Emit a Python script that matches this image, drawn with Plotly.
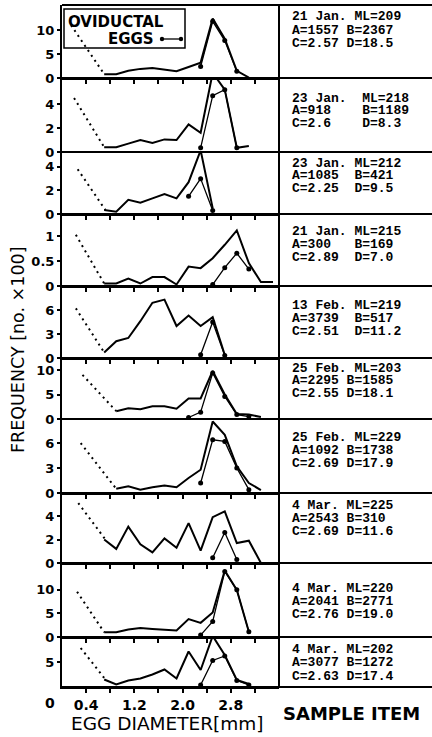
import plotly.graph_objects as go
from plotly.subplots import make_subplots

# ---------------- data (frequency, no. x100) ----------------
x07_31 = [0.7, 0.9, 1.1, 1.3, 1.5, 1.7, 1.9, 2.1, 2.3, 2.5, 2.7, 2.9, 3.1]
x07_25 = [0.7, 0.9, 1.1, 1.3, 1.5, 1.7, 1.9, 2.1, 2.3, 2.5]
x07_35 = [0.7, 0.9, 1.1, 1.3, 1.5, 1.7, 1.9, 2.1, 2.3, 2.5, 2.7, 2.9, 3.1, 3.3, 3.5]
x07_27 = [0.7, 0.9, 1.1, 1.3, 1.5, 1.7, 1.9, 2.1, 2.3, 2.5, 2.7]
x09_33 = [0.9, 1.1, 1.3, 1.5, 1.7, 1.9, 2.1, 2.3, 2.5, 2.7, 2.9, 3.1, 3.3]
x07_33 = [0.7, 0.9, 1.1, 1.3, 1.5, 1.7, 1.9, 2.1, 2.3, 2.5, 2.7, 2.9, 3.1, 3.3]

p1_x, p1_y = x07_31, [0.8, 0.8, 1.5, 1.9, 2.1, 1.8, 1.4, 2.3, 3.2, 12.4, 8.2, 1.5, 0.1]
p1_ex, p1_ey = [2.3, 2.5, 2.7, 2.9], [2.4, 11.8, 7.8, 1.4]
p1_dx, p1_dy = [0.15, 0.7], [11.0, 0.8]

p2_x, p2_y = x07_31, [0.4, 0.4, 0.7, 1.0, 0.75, 1.05, 1.0, 2.3, 1.6, 6.6, 5.2, 0.35, 0.5]
p2_ex, p2_ey = [2.3, 2.5, 2.7, 2.9], [0.35, 4.7, 5.2, 0.35]
p2_dx, p2_dy = [0.2, 0.7], [4.5, 0.4]

p3_x, p3_y = x07_25, [0.34, 0.2, 1.2, 0.96, 1.33, 1.7, 1.33, 2.7, 5.4, 0.5]
p3_ex, p3_ey = [2.1, 2.3, 2.5], [1.5, 3.0, 0.3]
p3_dx, p3_dy = [0.26, 0.72], [3.8, 0.34]

p4_x, p4_y = x07_35, [0.05, 0.05, 0.15, 0.05, 0.18, 0.18, 0.03, 0.39, 0.36, 0.56, 0.83, 1.12, 0.46, 0.08, 0.08]
p4_ex, p4_ey = [2.5, 2.7, 2.9, 3.1], [0.03, 0.37, 0.66, 0.34]
p4_dx, p4_dy = [0.23, 0.7], [1.03, 0.05]

p5_x, p5_y = x07_27, [0.7, 2.1, 2.5, 4.6, 6.9, 7.3, 4.0, 5.3, 4.0, 5.1, 0.4]
p5_ex, p5_ey = [2.3, 2.5, 2.7], [0.4, 4.5, 0.3]
p5_dx, p5_dy = [0.23, 0.7], [6.2, 0.7]

p6_x, p6_y = x09_33, [1.6, 2.2, 2.0, 2.6, 2.6, 2.1, 4.2, 4.2, 9.8, 5.0, 1.0, 0.9, 0.4]
p6_ex, p6_ey = [2.1, 2.3, 2.5, 2.7, 2.9, 3.1], [0.3, 1.4, 9.4, 4.6, 0.9, 0.5]
p6_dx, p6_dy = [0.34, 0.9], [9.0, 1.6]

p7_x, p7_y = x09_33, [0.5, 0.8, 0.4, 0.7, 0.9, 0.7, 1.8, 2.8, 8.6, 7.0, 3.2, 1.2, 0.35]
p7_ex, p7_ey = [2.3, 2.5, 2.7, 2.9, 3.1], [1.2, 6.4, 6.2, 3.0, 0.4]
p7_dx, p7_dy = [0.31, 0.9], [6.0, 0.5]

p8_x, p8_y = x07_33, [2.0, 1.2, 3.1, 1.6, 0.9, 2.1, 1.3, 3.4, 1.05, 3.9, 4.4, 1.7, 1.9, 0.0]
p8_ex, p8_ey = [2.5, 2.7, 2.9], [0.45, 2.6, 0.3]
p8_dx, p8_dy = [0.27, 0.72], [5.1, 2.0]

p9_x, p9_y = x07_31, [1.0, 1.0, 1.6, 1.9, 1.7, 1.6, 1.4, 3.8, 3.0, 5.2, 14.1, 10.0, 1.1]
p9_ex, p9_ey = [2.3, 2.5, 2.7, 2.9, 3.1], [0.4, 3.3, 13.9, 10.0, 1.1]
p9_dx, p9_dy = [0.25, 0.7], [9.6, 1.0]

p10_x, p10_y = x07_31, [1.5, 0.5, 1.3, 1.7, 2.5, 3.5, 1.7, 7.1, 3.4, 10.2, 6.4, 1.4, 0.6]
p10_ex, p10_ey = [2.3, 2.5, 2.7, 2.9, 3.1], [0.4, 5.3, 6.2, 1.3, 0.4]
p10_dx, p10_dy = [0.31, 0.72], [7.8, 1.5]

y_max = [15.2, 6.17, 5.26, 1.45, 9.0, 12.45, 8.9, 5.96, 15.7, 10.0]
y_ticks = [[0, 5, 10], [0, 2, 4], [0, 2, 4], [0, 0.5, 1], [0, 3, 6],
           [0, 5, 10], [0, 3, 6], [0, 2, 4], [0, 5, 10], [5]]
y_ticktext = [["0", "5", "10"], ["0", "2", "4"], ["0", "2", "4"], ["0", "0.5", "1"], ["0", "3", "6"],
              ["0", "5", "10"], ["0", "3", "6"], ["0", "2", "4"], ["0", "5", "10"], ["5"]]

x_tickvals = [0.4, 0.8, 1.2, 1.6, 2.0, 2.4, 2.8, 3.2]
x_ticktext = ["0.4", "", "1.2", "", "2.0", "", "2.8", ""]

sample_lines = [
    ["21 Jan. ML=209", "A=1557 B=2367", "C=2.57 D=18.5"],
    ["23 Jan.  ML=218", "A=918    B=1189", "C=2.6    D=8.3"],
    ["23 Jan. ML=212", "A=1085  B=421", "C=2.25  D=9.5"],
    ["21 Jan. ML=215", "A=300   B=169", "C=2.89  D=7.0"],
    ["13 Feb. ML=219", "A=3739  B=517", "C=2.51  D=11.2"],
    ["25 Feb. ML=203", "A=2295 B=1585", "C=2.55 D=18.1"],
    ["25 Feb. ML=229", "A=1092 B=1738", "C=2.69 D=17.9"],
    ["4 Mar. ML=225", "A=2543 B=310", "C=2.69 D=11.6"],
    ["4 Mar. ML=220", "A=2041 B=2771", "C=2.76 D=19.0"],
    ["4 Mar. ML=202", "A=3077 B=1272", "C=2.63 D=17.4"],
]

# ---------------- layout geometry (pixels) ----------------
W, H = 432, 737
L, R_EDGE, TOP, BOT = 62, 279, 5, 687
bounds = [5, 78, 152, 214, 286, 358, 419, 493, 563, 637, 687]
heights = [bounds[i + 1] - bounds[i] for i in range(10)]
text_y = [[17, 31, 44], [98, 111, 124], [163, 175, 188], [231, 244, 257], [305, 318, 331],
          [368, 381, 394], [437, 450, 463], [505, 518, 531], [588, 601, 614], [649, 662, 676]]

def px(x):
    return (x - L) / (R_EDGE - L)

def py(y):
    return (BOT - y) / (BOT - TOP)

panels = [
    (p1_x, p1_y, p1_ex, p1_ey, p1_dx, p1_dy),
    (p2_x, p2_y, p2_ex, p2_ey, p2_dx, p2_dy),
    (p3_x, p3_y, p3_ex, p3_ey, p3_dx, p3_dy),
    (p4_x, p4_y, p4_ex, p4_ey, p4_dx, p4_dy),
    (p5_x, p5_y, p5_ex, p5_ey, p5_dx, p5_dy),
    (p6_x, p6_y, p6_ex, p6_ey, p6_dx, p6_dy),
    (p7_x, p7_y, p7_ex, p7_ey, p7_dx, p7_dy),
    (p8_x, p8_y, p8_ex, p8_ey, p8_dx, p8_dy),
    (p9_x, p9_y, p9_ex, p9_ey, p9_dx, p9_dy),
    (p10_x, p10_y, p10_ex, p10_ey, p10_dx, p10_dy),
]

fig = make_subplots(rows=10, cols=1, shared_xaxes=True, vertical_spacing=0,
                    row_heights=heights)

TICKFONT = dict(family="DejaVu Sans", size=13, color="black", weight="bold")

for i, (sx, sy, ex, ey, dx, dy) in enumerate(panels):
    r = i + 1
    fig.add_trace(go.Scatter(x=dx, y=dy, mode="lines",
                             line=dict(color="black", width=2, dash="2px,4px"),
                             showlegend=False), row=r, col=1)
    fig.add_trace(go.Scatter(x=sx, y=sy, mode="lines",
                             line=dict(color="black", width=2),
                             showlegend=False), row=r, col=1)
    fig.add_trace(go.Scatter(x=ex, y=ey, mode="lines+markers",
                             line=dict(color="black", width=1.3),
                             marker=dict(color="black", size=5),
                             showlegend=False), row=r, col=1)
    fig.update_yaxes(range=[0, y_max[i]], tickvals=y_ticks[i], ticktext=y_ticktext[i],
                     showline=True, linecolor="black", linewidth=2,
                     ticks="outside", ticklen=3, tickwidth=1.5, tickcolor="black",
                     showgrid=False, zeroline=False, tickfont=TICKFONT,
                     row=r, col=1)
    fig.update_xaxes(range=[0, 3.6], tickvals=x_tickvals, ticktext=x_ticktext,
                     showline=True, linecolor="black", linewidth=2,
                     ticks="outside", ticklen=4, tickwidth=1.5, tickcolor="black",
                     showgrid=False, zeroline=False,
                     showticklabels=(r == 10), tickfont=dict(TICKFONT, size=14),
                     row=r, col=1)

shapes = []
for b in bounds:
    shapes.append(dict(type="line", xref="paper", yref="paper",
                       x0=px(L), x1=px(W + 2), y0=py(b), y1=py(b),
                       line=dict(color="black", width=2)))
shapes.append(dict(type="line", xref="paper", yref="paper",
                   x0=px(R_EDGE), x1=px(R_EDGE), y0=py(TOP), y1=py(BOT),
                   line=dict(color="black", width=2)))
# legend box
shapes.append(dict(type="rect", xref="paper", yref="paper",
                   x0=px(64), x1=px(185), y0=py(9), y1=py(48),
                   line=dict(color="black", width=1.5)))
shapes.append(dict(type="line", xref="paper", yref="paper",
                   x0=px(162), x1=px(181), y0=py(39), y1=py(39),
                   line=dict(color="black", width=1.3)))
for cx in (162, 181):
    shapes.append(dict(type="circle", xref="paper", yref="paper",
                       x0=px(cx - 2.2), x1=px(cx + 2.2), y0=py(39 - 2.2), y1=py(39 + 2.2),
                       fillcolor="black", line=dict(color="black", width=0)))

LEGFONT = dict(family="DejaVu Sans", size=15, color="black", weight="bold")
ann = []
ann.append(dict(text="OVIDUCTAL", xref="paper", yref="paper", x=px(66), y=py(22),
                xanchor="left", yanchor="middle", showarrow=False, font=LEGFONT))
ann.append(dict(text="EGGS", xref="paper", yref="paper", x=px(106), y=py(39),
                xanchor="left", yanchor="middle", showarrow=False, font=LEGFONT))
for lines, ys in zip(sample_lines, text_y):
    for t, yy in zip(lines, ys):
        ann.append(dict(text=t.replace(" ", "&nbsp;"), xref="paper", yref="paper",
                        x=px(290), y=py(yy), xanchor="left", yanchor="middle",
                        showarrow=False,
                        font=dict(family="Liberation Mono", size=13, color="black", weight="bold")))
ann.append(dict(text="0", xref="paper", yref="paper", x=px(50), y=py(703),
                xanchor="center", yanchor="middle", showarrow=False, font=dict(TICKFONT, size=14)))
ann.append(dict(text="EGG DIAMETER[mm]", xref="paper", yref="paper", x=px(167), y=py(723),
                xanchor="center", yanchor="middle", showarrow=False,
                font=dict(family="DejaVu Sans", size=18.5, color="black")))
ann.append(dict(text="SAMPLE ITEM", xref="paper", yref="paper", x=px(351), y=py(713),
                xanchor="center", yanchor="middle", showarrow=False,
                font=dict(family="DejaVu Sans", size=18, color="black", weight="bold")))
ann.append(dict(text="FREQUENCY [no. ×100]", xref="paper", yref="paper", x=px(18), y=py(350),
                xanchor="center", yanchor="middle", showarrow=False, textangle=-90,
                font=dict(family="DejaVu Sans", size=17.5, color="black")))

fig.update_layout(width=W, height=H, margin=dict(l=L, r=W - R_EDGE, t=TOP, b=H - BOT),
                  paper_bgcolor="white", plot_bgcolor="white",
                  shapes=shapes, annotations=ann, showlegend=False)

fig.write_html("out.html", config={"displayModeBar": False},
               post_script="document.body.style.margin='0px';")
